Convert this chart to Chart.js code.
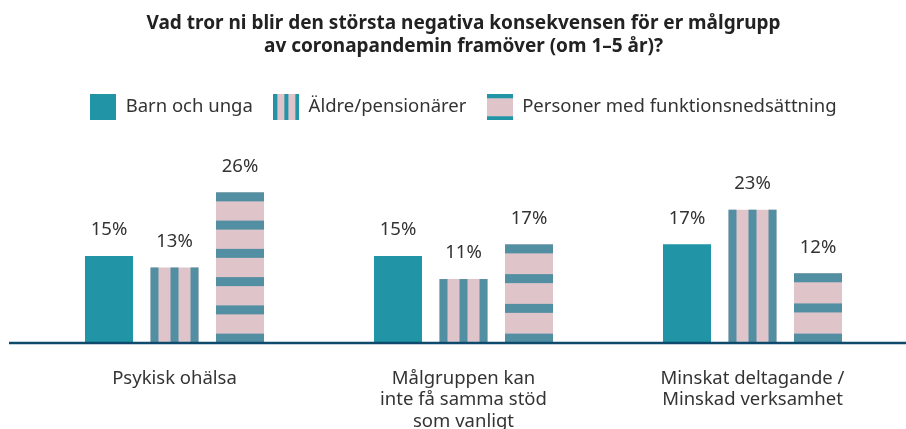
<!DOCTYPE html>
<html>
<head>
<meta charset="utf-8">
<script src="https://cdn.jsdelivr.net/npm/chart.js@4/dist/chart.umd.min.js"></script>
<style>
  body { margin: 0; background: #fff; }
  #wrap { width: 906px; height: 429px; }
</style>
</head>
<body>
<div id="wrap"><canvas id="Chart"></canvas></div>
<script>
// categories, series and texts
var categories = [
    ["Psykisk ohälsa"],
    ["Målgruppen kan", "inte få samma stöd", "som vanligt"],
    ["Minskat deltagande /", "Minskad verksamhet"]
];
var seriesNames = ["Barn och unga", "Äldre/pensionärer", "Personer med funktionsnedsättning"];
var barnValues = [15, 15, 17];
var aldreValues = [13, 11, 23];
var personerValues = [26, 17, 12];
var titleLines = [
    "Vad tror ni blir den största negativa konsekvensen för er målgrupp",
    "av coronapandemin framöver (om 1–5 år)?"
];

var teal = '#2194a6';
var stripe = '#538fa2';
var pink = '#dfc5ca';
var textCol = '#333333';
var font = "'Noto Sans', sans-serif";

//small canvases used as legend swatches
function swatch(kind) {
    var c = document.createElement('canvas');
    c.width = 26;
    c.height = 26;
    var g = c.getContext('2d');
    if (kind == 0) {
        g.fillStyle = teal;
        g.fillRect(0, 0, 26, 26);
    } else if (kind == 1) {
        g.fillStyle = pink;
        g.fillRect(0, 0, 26, 26);
        g.fillStyle = teal;
        g.fillRect(0, 0, 4, 26);
        g.fillRect(11, 0, 4, 26);
        g.fillRect(22, 0, 4, 26);
    } else {
        g.fillStyle = pink;
        g.fillRect(0, 0, 26, 26);
        g.fillStyle = teal;
        g.fillRect(0, 0, 26, 4);
        g.fillRect(0, 22, 26, 4);
    }
    return c;
}
var swatches = [swatch(0), swatch(1), swatch(2)];

//draws the stripes on top of the pink bars, the value labels and the base line
var stripePlugin = {
    id: 'stripes',
    afterDatasetsDraw: function (chart) {
        var ctx = chart.ctx;
        ctx.save();
        ctx.fillStyle = stripe;
        chart.getDatasetMeta(1).data.forEach(function (bar) {
            var left = bar.x - bar.width / 2;
            var n = Math.max(2, Math.round((bar.width - 8) / 20) + 1);
            var step = (bar.width - 8) / (n - 1);
            for (var i = 0; i < n; i++) {
                ctx.fillRect(left + i * step, bar.y, 8, bar.base - bar.y);
            }
        });
        chart.getDatasetMeta(2).data.forEach(function (bar) {
            var left = bar.x - bar.width / 2;
            var h = bar.base - bar.y;
            var n = Math.max(2, Math.round((h - 9) / 30) + 1);
            var step = (h - 9) / (n - 1);
            for (var i = 0; i < n; i++) {
                ctx.fillRect(left, bar.y + i * step, bar.width, 9);
            }
        });
        //value labels above each bar
        ctx.fillStyle = textCol;
        ctx.font = "18.5px " + font;
        ctx.textAlign = 'center';
        ctx.textBaseline = 'middle';
        chart.data.datasets.forEach(function (ds, di) {
            chart.getDatasetMeta(di).data.forEach(function (bar, i) {
                ctx.fillText(ds.data[i] + '%', bar.x, bar.y - 26);
            });
        });
        //the dark base line runs almost across the whole picture
        var y0 = chart.scales.y.getPixelForValue(0);
        ctx.strokeStyle = '#0d4a6b';
        ctx.lineWidth = 2.5;
        ctx.beginPath();
        ctx.moveTo(9, y0 + 0.5);
        ctx.lineTo(chart.width, y0 + 0.5);
        ctx.stroke();
        ctx.restore();
    }
};

var ctx = document.getElementById('Chart').getContext('2d');
var chart = new Chart(ctx, {
    type: 'bar',
    data: {
        labels: categories,
        datasets: [{
            label: seriesNames[0],
            data: barnValues,
            backgroundColor: teal,
            pointStyle: swatches[0]
        }, {
            label: seriesNames[1],
            data: aldreValues,
            backgroundColor: pink,
            pointStyle: swatches[1]
        }, {
            label: seriesNames[2],
            data: personerValues,
            backgroundColor: pink,
            pointStyle: swatches[2]
        }]
    },
    options: {
        responsive: true,
        maintainAspectRatio: false,
        animation: false,
        layout: { padding: { left: 30, right: 9, top: 0, bottom: -28 } },
        datasets: {
            bar: { categoryPercentage: 0.68, barPercentage: 0.733 }
        },
        plugins: {
            title: {
                display: true,
                text: titleLines,
                color: '#222222',
                font: { family: font, size: 19, weight: 'bold', lineHeight: 1.21 },
                padding: { top: 12.5, bottom: 19 }
            },
            legend: {
                display: true,
                labels: {
                    usePointStyle: true,
                    pointStyleWidth: 26,
                    boxWidth: 26,
                    boxHeight: 26,
                    padding: 20.5,
                    color: textCol,
                    font: { family: font, size: 18.5 }
                }
            },
            tooltip: { enabled: false }
        },
        scales: {
            x: {
                grid: { display: false, drawTicks: false },
                border: { display: false },
                ticks: {
                    color: textCol,
                    padding: 25,
                    maxRotation: 0,
                    font: { family: font, size: 18.5, lineHeight: 1.16 }
                }
            },
            y: {
                display: false,
                min: 0,
                max: 37.4
            }
        }
    },
    plugins: [stripePlugin]
});
</script>
</body>
</html>
